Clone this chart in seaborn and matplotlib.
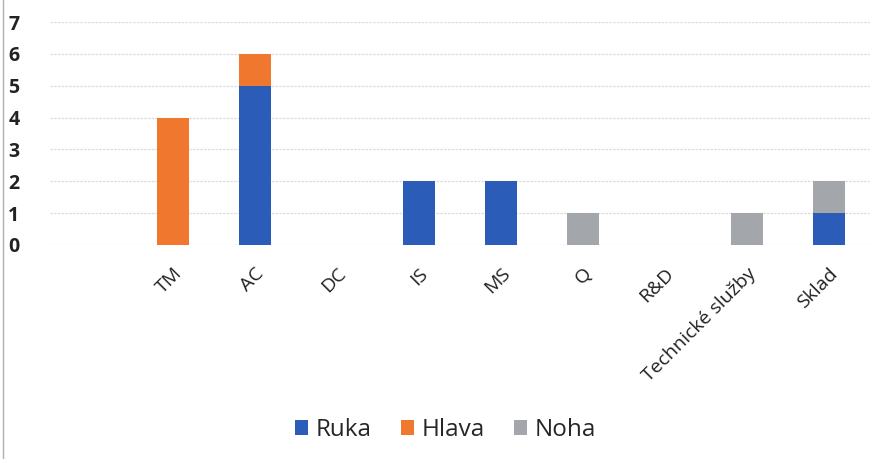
import numpy as np
import pandas as pd
import matplotlib
matplotlib.use("Agg")
import matplotlib.pyplot as plt
import seaborn as sns
from matplotlib.patches import Patch
from matplotlib.lines import Line2D

# Data
categories = ["", "TM", "AC", "DC", "IS", "MS", "Q", "R&D", "Technické služby", "Sklad"]
ruka = [0, 0, 5, 0, 2, 2, 0, 0, 0, 1]
hlava = [0, 4, 1, 0, 0, 0, 0, 0, 0, 0]
noha = [0, 0, 0, 0, 0, 0, 1, 0, 1, 1]

series_names = ["Ruka", "Hlava", "Noha"]
colors = {"Ruka": "#2b5cb8", "Hlava": "#f0772e", "Noha": "#a3a7ab"}

sns.set_style("white")
plt.rcParams["font.family"] = ["Open Sans", "DejaVu Sans"]

df = pd.DataFrame({"kat": categories, "Ruka": ruka, "Hlava": hlava, "Noha": noha})
df["c_ruka"] = df["Ruka"]
df["c_hlava"] = df["Ruka"] + df["Hlava"]
df["c_noha"] = df["Ruka"] + df["Hlava"] + df["Noha"]

fig = plt.figure(figsize=(8.73, 4.59), dpi=100)
ax = fig.add_axes([50 / 873, 1 - 245 / 459, 820 / 873, (245 - 22) / 459])

# stacked bars: draw the cumulative totals from top to bottom
for col, name in [("c_noha", "Noha"), ("c_hlava", "Hlava"), ("c_ruka", "Ruka")]:
    sns.barplot(data=df, x="kat", y=col, color=colors[name], width=0.38,
                saturation=1, linewidth=0, order=categories, ax=ax)

ax.set_ylim(0, 7)
ax.set_yticks(range(0, 8))
ax.yaxis.grid(True, color="#dcdcdc", linewidth=0.9, linestyle=(0, (2, 1)))
ax.set_axisbelow(True)
for s in ax.spines.values():
    s.set_visible(False)
ax.set_xlabel("")
ax.set_ylabel("")
ax.tick_params(axis="both", length=0)
ax.tick_params(axis="y", pad=22)
for lab in ax.get_yticklabels():
    lab.set_fontsize(14)
    lab.set_fontweight("bold")
    lab.set_color("#222222")
ax.set_xticks(range(len(categories)))
ax.set_xticklabels(categories, rotation=45, ha="right", rotation_mode="anchor",
                   fontsize=14, color="#222222")
ax.tick_params(axis="x", pad=14)

handles = [Patch(facecolor=colors[n], edgecolor="none") for n in series_names]
fig.legend(handles, series_names, loc="center", bbox_to_anchor=(0.51, 1 - 430 / 459),
           ncol=3, frameon=False, fontsize=17.5, handlelength=0.55, handleheight=0.55,
           handletextpad=0.3, columnspacing=1.2)

# thin border line on the left edge
fig.add_artist(Line2D([3 / 873, 3 / 873], [0, 1], color="#b0b0b0", linewidth=1,
                      transform=fig.transFigure))

fig.savefig("out.png", dpi=100)
